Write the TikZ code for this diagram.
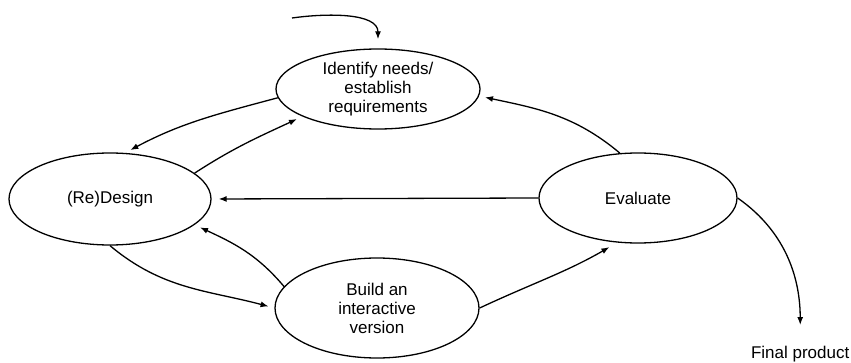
\documentclass[tikz,border=0pt]{standalone}
\usepackage{fontspec}
\setmainfont{Liberation Sans}
\usetikzlibrary{shapes.geometric,arrows.meta}
\begin{document}
\begin{tikzpicture}[x=1pt,y=1pt,line width=1.3pt,
  phase/.style={shape=ellipse, draw, inner sep=0pt, align=center, font=\fontsize{17}{19}\selectfont},
  flow/.style={-{Latex[length=8pt,width=6pt]}, shorten >=6pt}]
%%%%%%%%%%%%%%%%%%%%%%%%%%%%%%%%%%%%%%%%%%% FRAME
\useasboundingbox (0,0) rectangle (851,362);

%%%%%%%%%%%%%%%%%%%%%%%%%%%%%%%%%%%%%%%%%%% phases
\node[phase, minimum width=204pt, minimum height=80pt] (idn) at (378,273){Identify needs/\\establish\\requirements};
\node[phase, minimum width=202pt, minimum height=92pt] (dsg) at (110,163){(Re)Design};
\node[phase, minimum width=198pt, minimum height=90pt] (eva) at (638,164){Evaluate};
\node[phase, minimum width=204pt, minimum height=100pt] (bld) at (377,54){Build an\\interactive\\version};
\node[font=\fontsize{17}{19}\selectfont, inner sep=0pt, anchor=base east] (fin) at (850,4){Final product};
\coordinate (start) at (292,344);

%%%%% arrows
\draw[flow, shorten >=9pt] (start) to[out=8,in=90] (idn.north);
\draw[flow] (idn.185) to[out=195,in=28] (dsg.72);
\draw[flow] (dsg.17) to[out=33,in=205] (idn.200);
\draw[flow] (eva.112) to[out=140,in=-12] (idn.-4);
\draw[flow, shorten >=7pt] (eva.west) -- (dsg.east);
\draw[flow] (bld.167) to[out=130,in=-25] (dsg.-17);
\draw[flow] (dsg.south) to[out=-40,in=165] (bld.west);
\draw[flow, shorten >=9pt] (bld.east) to[out=25,in=210] (eva.-115);
\draw[flow, shorten >=20pt] (eva.east) to[out=-35,in=90] (fin.north);

\end{tikzpicture}
\end{document}
